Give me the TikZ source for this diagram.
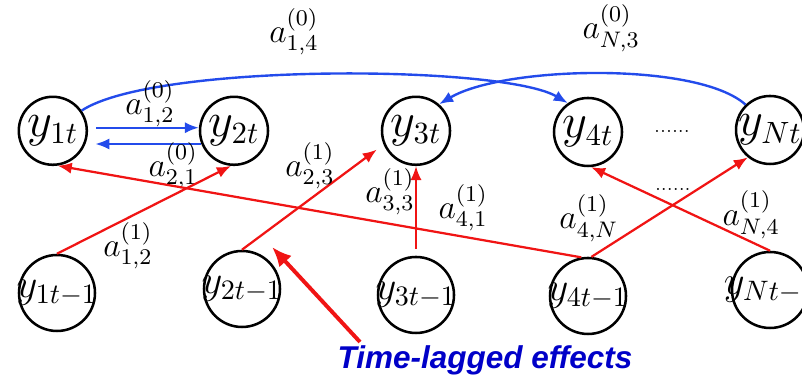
\documentclass[tikz,border=0pt]{standalone}
\usepackage{amsmath}
\usepackage{fontspec}
\newfontfamily\tagfont{Liberation Sans}
\usetikzlibrary{arrows.meta}
\definecolor{instblue}{RGB}{35,75,235}
\definecolor{lagred}{RGB}{240,20,20}
\definecolor{tagblue}{RGB}{0,0,200}

\begin{document}
\begin{tikzpicture}[>={Latex[length=5pt,width=4pt]},
  cur/.style={draw, circle, line width=0.9pt, minimum size=0.85cm, inner sep=0pt, font=\fontsize{16}{19}\selectfont},
  prev/.style={cur, minimum size=0.95cm, font=\fontsize{14}{17}\selectfont},
  inst/.style={->, instblue, line width=0.85pt},
  lag/.style={->, lagred, line width=0.8pt},
  coef/.style={inner sep=0pt, font=\fontsize{11.5}{14}\selectfont}]
\useasboundingbox (0,0) rectangle (10.025,4.775);
% time t
\node[cur] (y1) at (0.66,3.14) {\makebox[0pt]{$y_{1t}$}};
\node[cur] (y2) at (2.925,3.14) {\makebox[0pt]{$y_{2t}$}};
\node[cur] (y3) at (5.2,3.14) {\makebox[0pt]{$y_{3t}$}};
\node[cur] (y4) at (7.35,3.125) {\makebox[0pt]{$y_{4t}$}};
\node[cur] (yN) at (9.625,3.15) {\makebox[0pt]{$y_{Nt}$}};
% time t-1
\node[prev] (p1) at (0.7125,1.1125) {\makebox[0pt]{$y_{1t-1}$}};
\node[prev] (p2) at (3.025,1.1625) {\makebox[0pt]{$y_{2t-1}$}};
\node[prev] (p3) at (5.2,1.0875) {\makebox[0pt]{$y_{3t-1}$}};
\node[prev] (p4) at (7.35,1.075) {\makebox[0pt]{$y_{4t-1}$}};
\node[prev] (pN) at (9.625,1.15) {\makebox[0pt]{$y_{Nt-1}$}};
\node[font=\fontsize{6}{7}\selectfont] (dtop) at (8.4,3.125) {......};
\node[font=\fontsize{6}{7}\selectfont] (dlow) at (8.41,2.41) {......};
% contemporaneous effects
\draw[inst] ([xshift=2.9pt]y1.5) -- (y2.175);
\draw[inst] (y2.202) -- ([xshift=3.5pt]y1.-22);
\draw[inst] (y1.35) .. controls +(0.91,0.6) and +(-0.81,0.48) .. (y4.125);
\draw[inst] (yN.134) .. controls +(-0.6,0.54) and +(0.81,0.48) .. (y3.49);
\node[coef] (a12) at (1.875,3.475) {$a^{(0)}_{1,2}$};
\node[coef] (a21) at (2.165,2.7) {$a^{(0)}_{2,1}$};
\node[coef] (a14) at (3.675,4.375) {$a^{(0)}_{1,4}$};
\node[coef] (aN3) at (7.64,4.425) {$a^{(0)}_{N,3}$};
% lagged effects
\draw[lag] (p1.north) -- (y2.265);
\draw[lag] (p4.100) -- (y1.-82);
\draw[lag, shorten >=3pt] (p2.north) -- (y3.203);
\draw[lag, shorten <=2.5pt] (p3.north) -- (y3.south);
\draw[lag] (p4.85) -- (yN.231);
\draw[lag] (pN.north) -- (y4.-85);
\node[coef] (b12) at (1.6,1.7) {$a^{(1)}_{1,2}$};
\node[coef] (b23) at (3.875,2.7) {$a^{(1)}_{2,3}$};
\node[coef] (b33) at (4.875,2.375) {$a^{(1)}_{3,3}$};
\node[coef] (b41) at (5.79,2.175) {$a^{(1)}_{4,1}$};
\node[coef] (b4N) at (7.36,2.05) {$a^{(1)}_{4,N}$};
\node[coef] (bN4) at (9.39,2.09) {$a^{(1)}_{N,4}$};
% callout
\coordinate (tail) at (4.5,0.5);
\coordinate (tip) at (3.4,1.6875);
\draw[lagred, line width=1.4pt, -{Latex[length=7pt,width=6pt]}] (tail) -- (tip);
\node[text=tagblue, font=\tagfont\fontsize{11.2}{13}\selectfont\bfseries\itshape] (lagtext) at (6.0625,0.275) {Time-lagged effects};
\end{tikzpicture}
\end{document}
